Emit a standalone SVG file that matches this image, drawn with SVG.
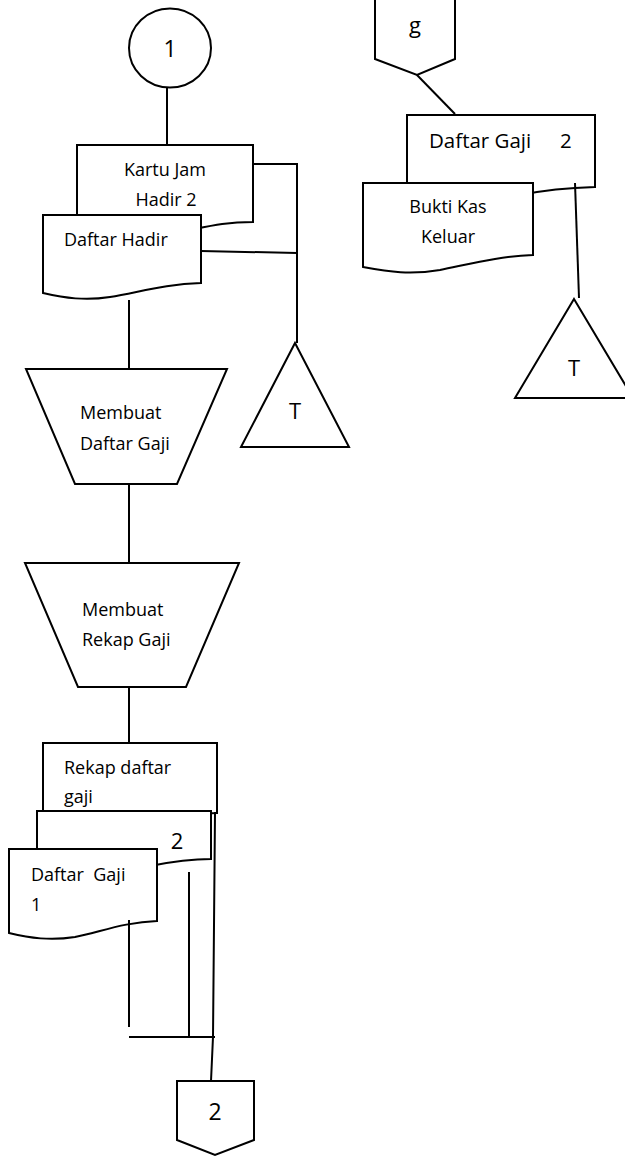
<svg xmlns="http://www.w3.org/2000/svg" width="625" height="1157" viewBox="0 0 625 1157">
  <style>
    .shape { fill: #fff; stroke: #000; stroke-width: 2; stroke-linejoin: miter; }
    .conn { fill: none; stroke: #000; stroke-width: 2; }
    .t { font-family: "Open Sans", "Liberation Sans", sans-serif; font-size: 18px; fill: #000; white-space: pre; }
    .big { font-family: "Open Sans", "Liberation Sans", sans-serif; font-size: 23px; fill: #000; text-anchor: middle; }
    .mid { text-anchor: middle; }
  </style>
  <rect width="625" height="1157" fill="#fff"/>

  <!-- left column -->
  <g id="connector-1">
    <ellipse class="shape" cx="170" cy="48" rx="41" ry="39.5"/>
    <text class="big" x="170" y="57">1</text>
  </g>

  <g id="doc-kartu-jam-hadir">
    <path class="shape" d="M77,145 H253 V222 C225,222 210,226 185,231 C150,238 110,236 77,230 Z"/>
    <text class="t mid" x="165" y="176">Kartu Jam</text>
    <text class="t mid" x="166" y="206">Hadir 2</text>
  </g>

  <g id="doc-daftar-hadir">
    <path class="shape" d="M43,215 H201 V283 C165,284 140,292 110,297 C85,301 65,298 43,293 Z"/>
    <text class="t" x="64" y="246">Daftar Hadir</text>
  </g>

  <g id="archive-t-left">
    <path class="shape" d="M295,343 L349,447 L241,447 Z"/>
    <text class="big" x="295" y="419" style="font-size:22px">T</text>
  </g>

  <g id="proc-membuat-daftar-gaji">
    <path class="shape" d="M26,369 H227 L177,484 H75 Z"/>
    <text class="t" x="80" y="419">Membuat</text>
    <text class="t" x="80" y="450">Daftar Gaji</text>
  </g>

  <g id="proc-membuat-rekap-gaji">
    <path class="shape" d="M25,563 H239 L186,687 H78 Z"/>
    <text class="t" x="82" y="616">Membuat</text>
    <text class="t" x="82" y="646">Rekap Gaji</text>
  </g>

  <g id="doc-rekap-daftar-gaji">
    <path class="shape" d="M43,743 H217 V813 C200,813 185,816 170,820 C120,830 80,828 43,822 Z"/>
    <text class="t" x="64" y="774">Rekap daftar</text>
    <text class="t" x="64" y="803">gaji</text>
  </g>

  <g id="doc-daftar-gaji-copy2">
    <path class="shape" d="M37,811 H211 V859 C190,859 170,862 150,866 C100,875 70,873 37,868 Z"/>
    <text class="big" x="177" y="849" style="font-size:22px">2</text>
  </g>

  <g id="doc-daftar-gaji-1">
    <path class="shape" d="M9,849 H157 V921 C125,922 100,932 75,937 C50,941 30,938 9,933 Z"/>
    <text class="t" x="31" y="881">Daftar  Gaji</text>
    <text class="t" x="31" y="911">1</text>
  </g>

  <g id="offpage-2">
    <path class="shape" d="M177,1081 H254 V1140 L215,1155 L177,1140 Z"/>
    <text class="big" x="215" y="1120">2</text>
  </g>

  <!-- right column -->
  <g id="offpage-g">
    <path class="shape" d="M375,-3 V59 L417,75 L455,59 V-3"/>
    <text class="big" x="415" y="33" style="font-size:22px">g</text>
  </g>

  <g id="doc-daftar-gaji-2">
    <path class="shape" d="M407,115 H595 V187 C560,188 540,191 520,195 C470,204 440,202 407,198 Z"/>
    <text class="t" x="429" y="148" style="font-size:20.5px">Daftar Gaji</text>
    <text class="t" x="560" y="148" style="font-size:20.5px">2</text>
  </g>

  <g id="doc-bukti-kas-keluar">
    <path class="shape" d="M363,183 H533 V255 C500,256 470,264 440,270 C410,275 390,272 363,267 Z"/>
    <text class="t mid" x="448" y="213">Bukti Kas</text>
    <text class="t mid" x="448" y="243">Keluar</text>
  </g>

  <g id="archive-t-right">
    <path class="shape" d="M574,299 L633,398 L515,398 Z"/>
    <text class="big" x="574" y="376" style="font-size:22px">T</text>
  </g>

  <!-- flow lines -->
  <g id="connectors">
    <path class="conn" d="M167,87 V145"/>
    <path class="conn" d="M253,164 H297 V343"/>
    <path class="conn" d="M201,251 L297,253"/>
    <path class="conn" d="M129,300 V369"/>
    <path class="conn" d="M129,484 V563"/>
    <path class="conn" d="M129,687 V743"/>
    <path class="conn" d="M129,920 V1027"/>
    <path class="conn" d="M189,872 V1037"/>
    <path class="conn" d="M129,1037 H215"/>
    <path class="conn" d="M217,813 H215 L213,1037 L211,1081"/>
    <path class="conn" d="M417,75 L455,114"/>
    <path class="conn" d="M575,183 L579,298"/>
  </g>
</svg>
